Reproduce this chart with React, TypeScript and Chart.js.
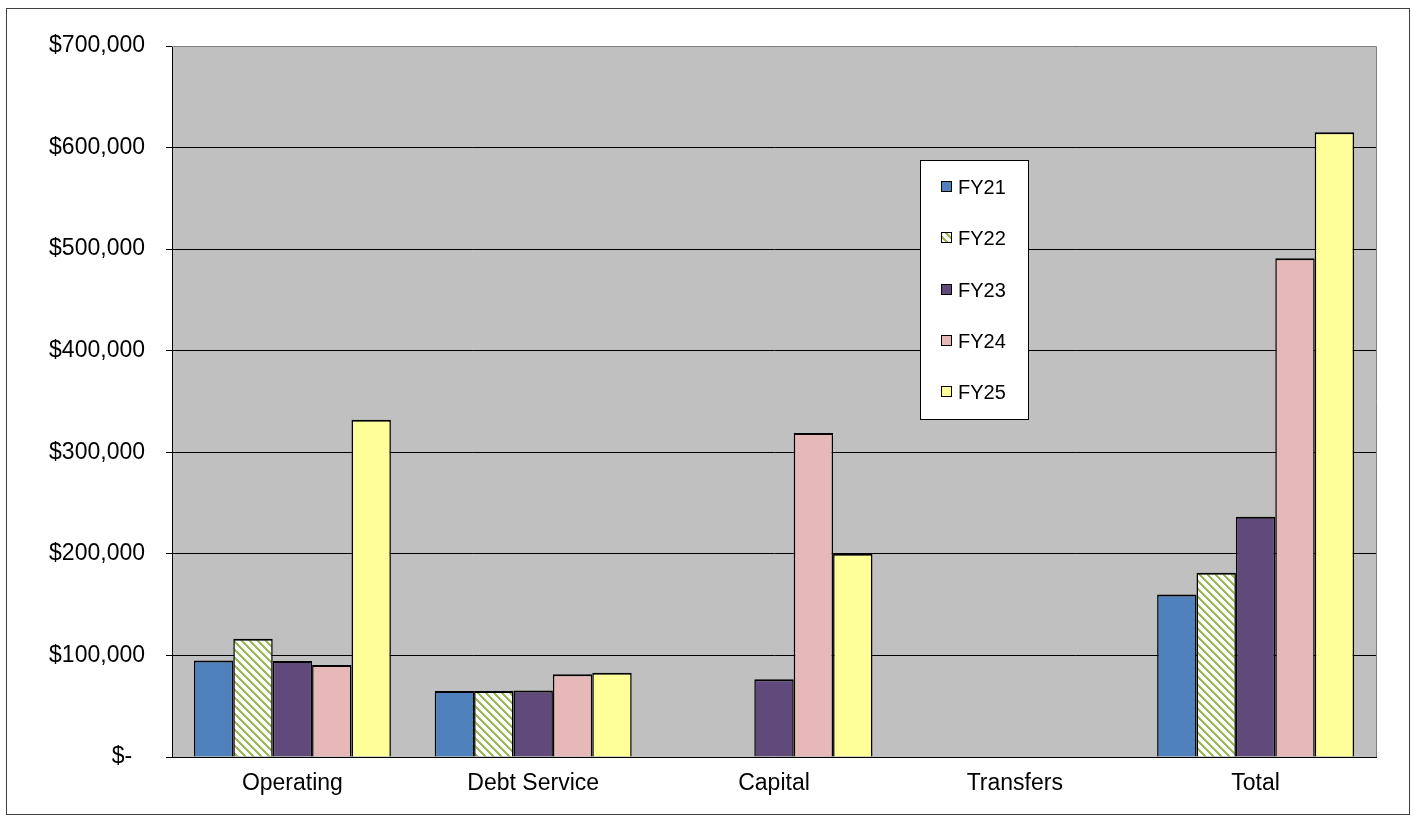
import { useEffect, useRef } from 'react';
import { Chart, registerables } from 'chart.js';

Chart.register(...registerables);

// Spending by category, fiscal years 21 through 25 (empty = no spending)
const categories = ['Operating', 'Debt Service', 'Capital', 'Transfers', 'Total'];
const seriesNames = ['FY21', 'FY22', 'FY23', 'FY24', 'FY25'];
const fy21 = [95000, 65000, null, null, 160000];
const fy22 = [116500, 65000, null, null, 181500];
const fy23 = [94500, 65500, 76500, null, 236500];
const fy24 = [90500, 81500, 319000, null, 491000];
const fy25 = [332000, 83000, 200000, null, 615000];
const yMax = 700000;
const yStep = 100000;

const FONT = '"Liberation Sans", Arial, Helvetica, sans-serif';

// White background with green down-right diagonal stripes
function makeHatch(): CanvasPattern | string {
  const size = 8;
  const c = document.createElement('canvas');
  c.width = size;
  c.height = size;
  const cx = c.getContext('2d');
  if (!cx) return '#9BBB59';
  const img = cx.createImageData(size, size);
  for (let y = 0; y < size; y++) {
    for (let x = 0; x < size; x++) {
      const i = (y * size + x) * 4;
      const d = (((x - y) % size) + size) % size;
      const green = d < 3;
      img.data[i] = green ? 0x9b : 255;
      img.data[i + 1] = green ? 0xbb : 255;
      img.data[i + 2] = green ? 0x59 : 255;
      img.data[i + 3] = 255;
    }
  }
  cx.putImageData(img, 0, 0);
  return cx.createPattern(c, 'repeat') || '#9BBB59';
}

const plotBackground = {
  id: 'plotBackground',
  beforeDraw(chart: any) {
    const { ctx, chartArea: a } = chart;
    ctx.save();
    ctx.fillStyle = '#C0C0C0';
    ctx.fillRect(a.left, a.top, a.right - a.left, a.bottom - a.top);
    ctx.restore();
  },
  afterDraw(chart: any) {
    const { ctx, chartArea: a } = chart;
    ctx.save();
    ctx.strokeStyle = '#808080';
    ctx.lineWidth = 1;
    ctx.beginPath();
    ctx.moveTo(a.left, a.top + 0.5);
    ctx.lineTo(a.right + 0.5, a.top + 0.5);
    ctx.lineTo(a.right + 0.5, a.bottom);
    ctx.stroke();
    ctx.restore();
  },
};

// Boxed vertical legend floating inside the plot area
const boxLegend = {
  id: 'boxLegend',
  afterDraw(chart: any) {
    const { ctx } = chart;
    const left = 920;
    const top = 160;
    const width = 109;
    const height = 260;
    ctx.save();
    ctx.fillStyle = '#FFFFFF';
    ctx.fillRect(left, top, width, height);
    ctx.strokeStyle = '#000000';
    ctx.lineWidth = 1;
    ctx.strokeRect(left + 0.5, top + 0.5, width - 1, height - 1);
    ctx.font = `20px ${FONT}`;
    ctx.textBaseline = 'middle';
    ctx.textAlign = 'left';
    chart.data.datasets.forEach((ds: any, i: number) => {
      const cy = Math.round(top + 27 + i * 51.3);
      ctx.fillStyle = ds.backgroundColor;
      ctx.fillRect(941, cy - 5, 10, 10);
      ctx.strokeStyle = '#000000';
      ctx.strokeRect(941.5, cy - 5.5, 10, 10);
      ctx.fillStyle = '#000000';
      ctx.fillText(ds.label, 958, cy + 1);
    });
    ctx.restore();
  },
};

export default function App() {
  const canvasRef = useRef<HTMLCanvasElement | null>(null);

  useEffect(() => {
    if (!canvasRef.current) return;
    const hatch = makeHatch();
    const fills = ['#4F81BD', hatch, '#604A7B', '#E6B9B8', '#FFFF99'];
    const series = [fy21, fy22, fy23, fy24, fy25];

    const chart = new Chart(canvasRef.current, {
      type: 'bar',
      data: {
        labels: categories,
        datasets: series.map((values, i) => ({
          label: seriesNames[i],
          data: values,
          backgroundColor: fills[i] as any,
          borderColor: '#000000',
          borderWidth: { top: 2, left: 1.5, right: 1.5, bottom: 0 },
          categoryPercentage: 0.818,
          barPercentage: 1,
        })),
      },
      options: {
        animation: false,
        responsive: false,
        maintainAspectRatio: false,
        layout: { padding: { top: 46, right: 37, left: 0, bottom: 0 } },
        plugins: {
          legend: { display: false },
          tooltip: { enabled: false },
        },
        scales: {
          x: {
            grid: { display: false, drawTicks: false },
            border: { display: true, color: '#000000', width: 1 },
            ticks: {
              color: '#000000',
              font: { family: FONT, size: 23 },
              padding: 13,
              maxRotation: 0,
            },
            afterFit(scale: any) {
              scale.height = 63;
            },
          },
          y: {
            min: 0,
            max: yMax,
            grid: { color: '#000000', lineWidth: 1, tickLength: 6, drawTicks: true },
            border: { display: true, color: '#000000', width: 1 },
            ticks: {
              stepSize: yStep,
              color: '#000000',
              font: { family: FONT, size: 23 },
              padding: 21,
              callback: (v: any) =>
                Number(v) === 0 ? '$-  ' : '$' + Number(v).toLocaleString('en-US'),
            },
            afterFit(scale: any) {
              scale.width = 172;
            },
          },
        },
      },
      plugins: [plotBackground, boxLegend],
    });

    return () => chart.destroy();
  }, []);

  return (
    <div
      style={{
        position: 'fixed',
        left: 0,
        top: 0,
        width: 1413,
        height: 820,
        background: '#FFFFFF',
      }}
    >
      <canvas ref={canvasRef} width={1413} height={820} style={{ display: 'block' }} />
      <div
        style={{
          position: 'absolute',
          left: 6,
          top: 8,
          width: 1404,
          height: 807,
          border: '1px solid #404040',
          boxSizing: 'border-box',
          pointerEvents: 'none',
        }}
      />
    </div>
  );
}
